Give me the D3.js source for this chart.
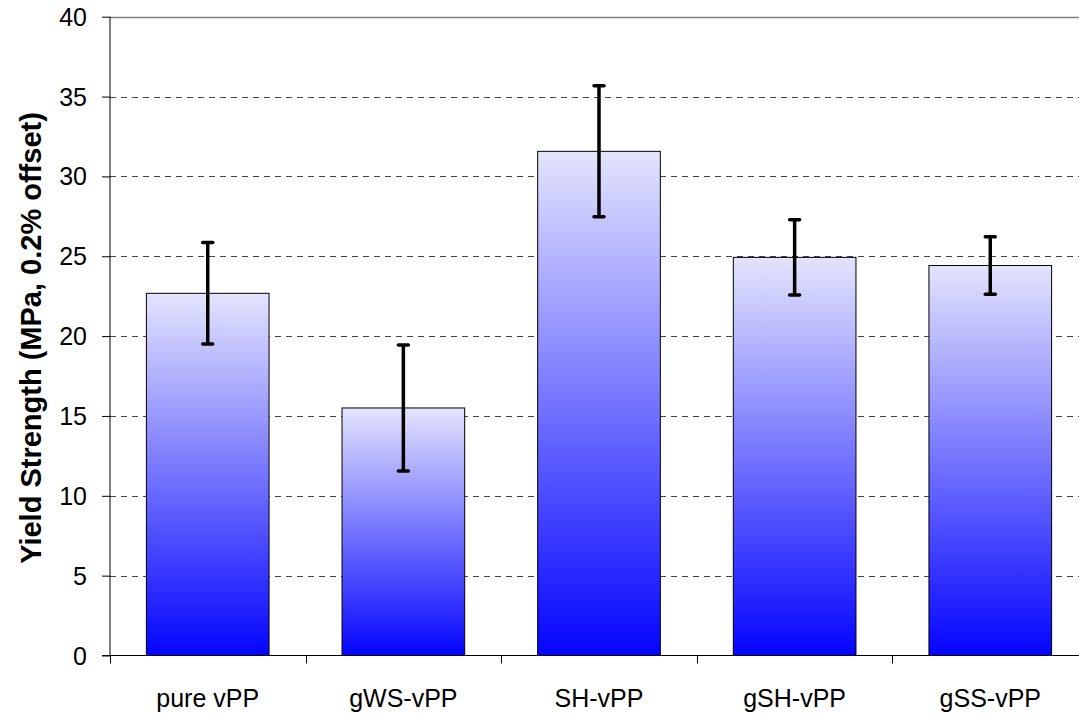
<!DOCTYPE html>
<html><head><meta charset="utf-8">
<script src="https://cdn.jsdelivr.net/npm/d3@7"></script>
<style>body{margin:0;background:#fff;} svg{display:block;}</style>
</head><body>
<svg id="c" width="1079" height="715"></svg>
<script>
const categories = ["pure vPP", "gWS-vPP", "SH-vPP", "gSH-vPP", "gSS-vPP"];
const values = [22.68, 15.5, 31.57, 24.93, 24.42];
const errors = [3.18, 3.95, 4.1, 2.36, 1.8];
const yTicks = [0, 5, 10, 15, 20, 25, 30, 35, 40];
const yTitle = "Yield Strength (MPa, 0.2% offset)";

const svg = d3.select("#c");
const L = 110, R = 1088, T = 16.7, B = 655.5;
const FONT = "Liberation Sans, Arial, sans-serif";
const x = d3.scaleBand().domain(categories).range([L, R]).paddingInner(0.373).paddingOuter(0.186);
const y = d3.scaleLinear().domain([0, 40]).range([B, T]);

const defs = svg.append("defs");
const g = defs.append("linearGradient").attr("id", "grad").attr("x1", 0).attr("y1", 0).attr("x2", 0).attr("y2", 1);
g.append("stop").attr("offset", "0%").attr("stop-color", "#e4e4fd");
g.append("stop").attr("offset", "100%").attr("stop-color", "#0404ff");

// gridlines
svg.append("g").selectAll("line").data(yTicks.filter(d => d > 0 && d < 40)).join("line")
  .attr("x1", L).attr("x2", R).attr("y1", d => Math.round(y(d)) + 0.5).attr("y2", d => Math.round(y(d)) + 0.5)
  .attr("stroke", "#444").attr("stroke-width", 1).attr("stroke-dasharray", "6,5");
svg.append("line").attr("x1", L).attr("x2", R).attr("y1", Math.round(y(40)) + 0.5).attr("y2", Math.round(y(40)) + 0.5)
  .attr("stroke", "#808080").attr("stroke-width", 1.5);

// bars
svg.append("g").selectAll("rect").data(categories).join("rect")
  .attr("x", d => x(d)).attr("width", x.bandwidth())
  .attr("y", (d, i) => y(values[i])).attr("height", (d, i) => y(0) - y(values[i]))
  .attr("fill", "url(#grad)").attr("stroke", "#000").attr("stroke-width", 1);

// y axis
const ya = svg.append("g").attr("transform", `translate(${L},0)`)
  .call(d3.axisLeft(y).tickValues(yTicks).tickSize(8).tickPadding(15));
ya.select(".domain").attr("stroke", "#000").attr("d", `M0,${T}V${B}`);
ya.selectAll("text").attr("font-family", FONT).attr("font-size", 25).attr("fill", "#000").attr("dy", "0.34em");

// x axis
const xa = svg.append("g").attr("transform", `translate(0,${B})`);
xa.append("line").attr("x1", L - 8).attr("x2", R).attr("stroke", "#000");
const bounds = categories.map((c, i) => L + i * (R - L) / categories.length);
xa.selectAll("line.tk").data(bounds).join("line").attr("class", "tk")
  .attr("x1", d => Math.round(d) + 0.5).attr("x2", d => Math.round(d) + 0.5).attr("y1", 0).attr("y2", 8).attr("stroke", "#000");
xa.selectAll("text").data(categories).join("text")
  .attr("x", d => x(d) + x.bandwidth() / 2).attr("y", 51)
  .attr("text-anchor", "middle").attr("font-family", FONT)
  .attr("font-size", 25).attr("fill", "#000").text(d => d);

// error bars
const eb = svg.append("g");
categories.forEach((c, i) => {
  const cx = x(c) + x.bandwidth() / 2;
  const hi = y(values[i] + errors[i]), lo = y(values[i] - errors[i]);
  eb.append("line").attr("x1", cx).attr("x2", cx).attr("y1", hi).attr("y2", lo).attr("stroke", "#000").attr("stroke-width", 3.5);
  [hi, lo].forEach(v => eb.append("line").attr("x1", cx - 5).attr("x2", cx + 5).attr("y1", v).attr("y2", v)
    .attr("stroke", "#000").attr("stroke-width", 3.5).attr("stroke-linecap", "round"));
});

// y title
svg.append("text").attr("transform", `translate(41,${338}) rotate(-90)`)
  .attr("text-anchor", "middle").attr("font-family", FONT)
  .attr("font-size", 29).attr("font-weight", "bold").attr("fill", "#000").text(yTitle);
</script>
</body></html>
